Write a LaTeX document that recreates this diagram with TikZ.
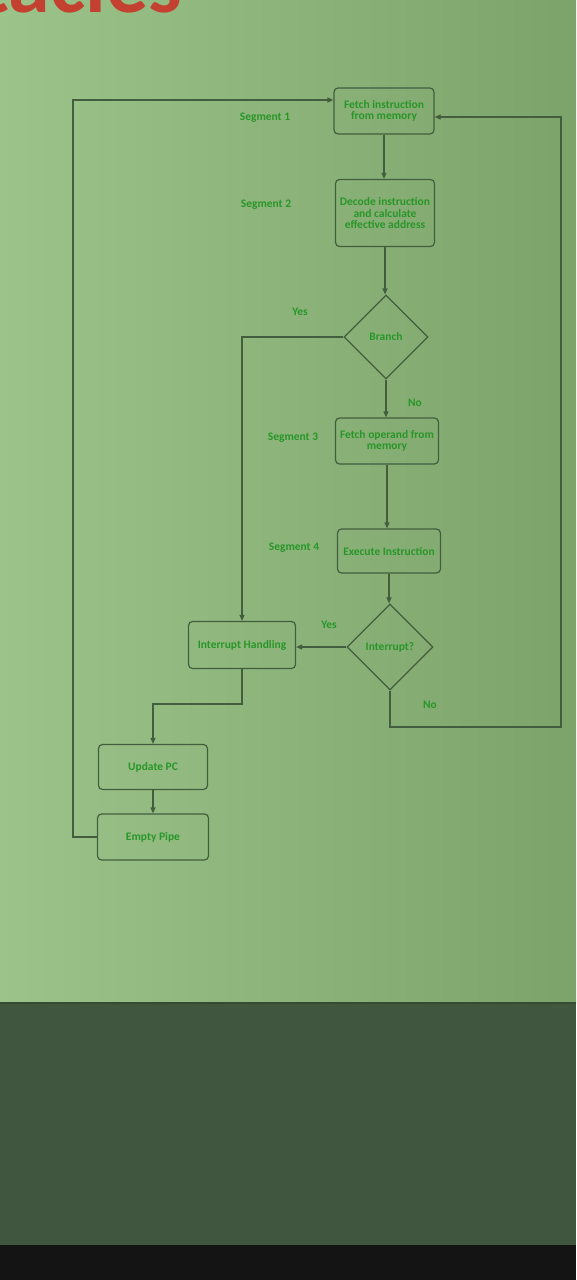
\documentclass[tikz,border=0pt]{standalone}
\usepackage{fontspec}
\setmainfont{Carlito}
\usetikzlibrary{shapes.geometric,arrows.meta}
\definecolor{screenL}{RGB}{156,196,138}
\definecolor{screenR}{RGB}{124,164,106}
\definecolor{wall}{RGB}{64,86,62}
\definecolor{edge}{RGB}{66,94,62}
\definecolor{ink}{RGB}{40,150,40}
\definecolor{titlered}{RGB}{196,64,48}
\tikzset{
  flowbox/.style={draw=edge, line width=1.2pt, rounded corners=4pt, align=center,
    font=\bfseries\fontsize{11.5}{11.5}\selectfont, text=ink, inner sep=1pt},
  flowdiamond/.style={draw=edge, line width=1.2pt, diamond, aspect=1, align=center,
    font=\bfseries\fontsize{11.5}{12}\selectfont, text=ink, inner sep=0pt},
  flowlabel/.style={font=\bfseries\fontsize{11.5}{12}\selectfont, text=ink},
  flowline/.style={draw=edge, line width=1.2pt, -{Triangle[length=6pt,width=5pt]}}
}
\begin{document}
\begin{tikzpicture}[x=1pt,y=-1pt]
\useasboundingbox (0,0) rectangle (576,1280);
\begin{scope}
\clip (0,0) rectangle (576,1280);
% projected slide
\shade[left color=screenL, right color=screenR] (0,0) rectangle (576,1003);
\fill[wall] (0,1003) rectangle (576,1245);
\draw[edge!80!black, line width=2pt] (0,1003) -- (576,1003);
\fill[black!92] (0,1245) rectangle (576,1280);
% slide title, running off the top edge
\node[anchor=base east, font=\bfseries\fontsize{84}{84}\selectfont, text=titlered, inner sep=0pt]
  (title) at (182,12) {Obstacles};
\end{scope}

% flowchart nodes
\node[flowbox, minimum width=100pt, minimum height=46pt] (fetch) at (384,111) {Fetch instruction\\from memory};
\node[flowbox, minimum width=99pt, minimum height=67pt] (decode) at (385,213) {Decode instruction\\and calculate\\effective address};
\node[flowdiamond, minimum size=84pt] (branch) at (386,337) {Branch};
\node[flowbox, minimum width=103pt, minimum height=46pt] (operand) at (387,441) {Fetch operand from\\memory};
\node[flowbox, minimum width=103pt, minimum height=44pt] (execute) at (389,551) {Execute Instruction};
\node[flowdiamond, minimum size=86pt] (intq) at (390,647) {Interrupt?};
\node[flowbox, minimum width=107pt, minimum height=47pt] (handle) at (242,645) {Interrupt Handling};
\node[flowbox, minimum width=109pt, minimum height=45pt] (update) at (153,767) {Update PC};
\node[flowbox, minimum width=111pt, minimum height=46pt] (empty) at (153,837) {Empty Pipe};

% segment and branch labels
\node[flowlabel] (seg1) at (265,118) {Segment 1};
\node[flowlabel] (seg2) at (266,205) {Segment 2};
\node[flowlabel] (seg3) at (293,438) {Segment 3};
\node[flowlabel] (seg4) at (294,548) {Segment 4};
\node[flowlabel] (yes1) at (300,312) {Yes};
\node[flowlabel] (no1) at (415,403) {No};
\node[flowlabel] (yes2) at (329,625) {Yes};
\node[flowlabel] (no2) at (430,705) {No};

% routing points
\coordinate (loopL) at (73,100);
\coordinate (loopR) at (561,117);

% connectors
\draw[flowline] (fetch.south) -- (fetch.south |- decode.north);
\draw[flowline] (decode.south) -- (decode.south |- branch.north);
\draw[flowline] (branch.west) -| (handle.north);
\draw[flowline] (branch.south) -- (branch.south |- operand.north);
\draw[flowline] (operand.south) -- (operand.south |- execute.north);
\draw[flowline] (execute.south) -- (execute.south |- intq.north);
\draw[flowline] (intq.west) -- (intq.west -| handle.east);
\draw[flowline] (intq.south) |- (561,727) -- (loopR) -- (fetch.east |- loopR);
\draw[flowline] (handle.south) |- (153,704) -- (update.north);
\draw[flowline] (update) -- (empty);
\draw[flowline] (empty.west) -| (loopL) -- (fetch.west |- loopL);
\end{tikzpicture}
\end{document}
